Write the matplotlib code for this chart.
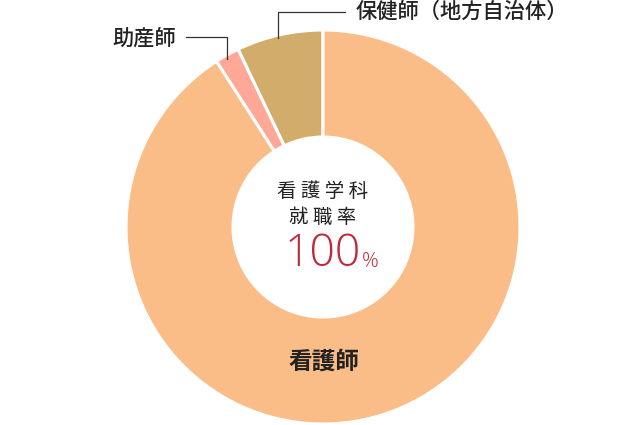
import matplotlib.pyplot as plt
import numpy as np

plt.rcParams['font.family'] = ['Noto Sans CJK JP', 'DejaVu Sans']

# shares of graduates by job
labels = ['保健師（地方自治体）', '助産師', '看護師']
shares = [7.1, 2.0, 90.9]
colors = ['#D2AC6A', '#FFA898', '#FBBD87']

rate_title = ['看 護 学 科', '就 職 率']
rate_value = '100'

fig = plt.figure(figsize=(6.4, 4.25), dpi=100)
ax = fig.add_axes([0, 0, 1, 1])

cx, cy, r = 323, 198, 197
wedges, _ = ax.pie(shares, colors=colors, startangle=90, counterclock=True,
                   center=(cx, cy), radius=r, frame=True,
                   wedgeprops=dict(width=107, edgecolor='white', linewidth=2.2))
ax.set_xlim(0, 640)
ax.set_ylim(0, 425)
ax.set_aspect('equal')
ax.axis('off')


def edge_point(w):
    t = np.deg2rad((w.theta1 + w.theta2) / 2)
    return cx + r * np.cos(t), cy + r * np.sin(t)

# leader for 保健師
x0, y0 = edge_point(wedges[0])
ax.plot([278, 278, 345], [y0 - 3, 413, 413], color='#333333', lw=0.9)
ax.text(356, 413, labels[0], fontsize=15.3, va='center', ha='left',
        color='#222222', fontweight='medium')

# leader for 助産師
x1, y1 = edge_point(wedges[1])
ax.plot([186, 227, 227], [388, 388, y1 - 4], color='#333333', lw=0.9)
ax.text(112, 386, labels[1], fontsize=15.3, va='center', ha='left',
        color='#222222', fontweight='medium')

# big slice label
ax.text(cx + 1, 425 - 362, labels[2], fontsize=17, va='center', ha='center',
        color='#222222', fontweight='bold')

# centre text
ax.text(cx, 425 - 191, rate_title[0], fontsize=14, va='center', ha='center', color='#222222')
ax.text(cx, 425 - 217, rate_title[1], fontsize=14, va='center', ha='center', color='#222222')
ax.text(361, 425 - 255, rate_value, fontsize=32, va='center', ha='right',
        color='#C0283A', family=['Open Sans', 'DejaVu Sans'], fontweight='light')
ax.text(362, 425 - 262, '%', fontsize=15, va='center', ha='left',
        color='#C0283A', family=['Open Sans', 'DejaVu Sans'], fontweight='light')

plt.savefig('out.png', dpi=100)
